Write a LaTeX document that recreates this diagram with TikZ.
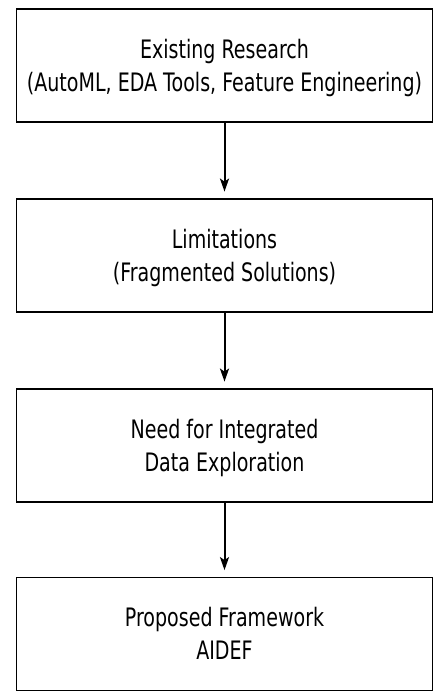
\documentclass[tikz,border=0pt]{standalone}
\usepackage{fontspec}
\setmainfont{DejaVu Sans}[FakeStretch=0.75]
\usetikzlibrary{arrows.meta}
\newcommand{\stagetext}[2]{\raisebox{0pt}[18.5pt][32.6pt]{\begin{tabular}[t]{@{}c@{}}#1\\#2\end{tabular}}}
\begin{document}
\begin{tikzpicture}[x=1pt,y=-1pt,
  stage/.style={draw=black, line width=1.8pt, minimum width=416pt, minimum height=113pt,
    inner sep=0pt, font=\fontsize{25.4}{32.6}\selectfont},
  flow/.style={line width=2pt, -{Stealth[length=13pt,width=9pt,inset=3pt]}}]
\useasboundingbox (0,0) rectangle (434,692);
\node[stage] (s1) at (224.5,65.75) {\stagetext{Existing Research}{(AutoML, EDA Tools, Feature Engineering)}};
\node[stage] (s2) at (224.5,255.5) {\stagetext{Limitations}{(Fragmented Solutions)}};
\node[stage] (s3) at (224.5,445.5) {\stagetext{Need for Integrated}{Data Exploration}};
\node[stage] (s4) at (224.5,634) {\stagetext{Proposed Framework}{AIDEF}};
\draw[flow] (s1.south) -- ([yshift=6.5pt]s2.north);
\draw[flow] (s2.south) -- ([yshift=6.5pt]s3.north);
\draw[flow] (s3.south) -- ([yshift=6.5pt]s4.north);
\end{tikzpicture}
\end{document}
